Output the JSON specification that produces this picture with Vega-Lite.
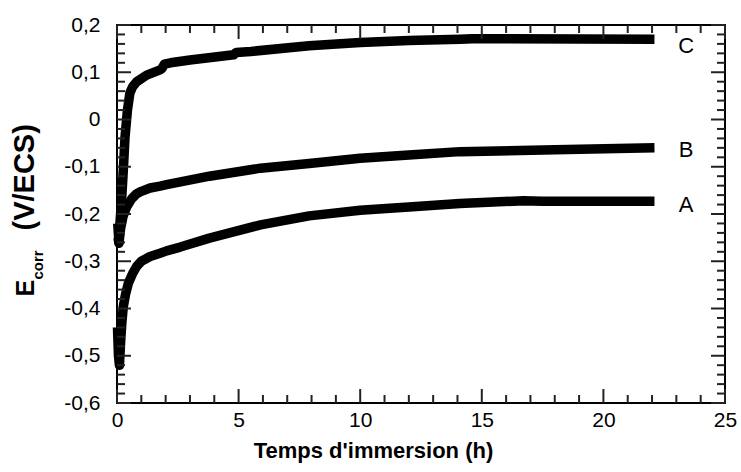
{
  "$schema": "https://vega.github.io/schema/vega-lite/v6.json",
  "width": 608,
  "height": 378,
  "autosize": {"type": "none"},
  "padding": {"left": 117, "top": 25, "right": 16, "bottom": 69},
  "background": "white",
  "config": {
    "view": {"stroke": "#000", "strokeWidth": 2},
    "font": "Liberation Sans",
    "axis": {"grid": false, "domain": false, "labelColor": "#000", "titleColor": "#000", "labelFont": "Liberation Sans", "titleFont": "Liberation Sans"}
  },
  "datasets": {
    "xmajor": [{"t":0},{"t":5},{"t":10},{"t":15},{"t":20},{"t":25}],
    "xminor": [{"t":1},{"t":2},{"t":3},{"t":4},{"t":6},{"t":7},{"t":8},{"t":9},{"t":11},{"t":12},{"t":13},{"t":14},{"t":16},{"t":17},{"t":18},{"t":19},{"t":21},{"t":22},{"t":23},{"t":24}],
    "ymajor": [{"v":-0.6},{"v":-0.5},{"v":-0.4},{"v":-0.3},{"v":-0.2},{"v":-0.1},{"v":0},{"v":0.1},{"v":0.2}],
    "yminor": [{"v":-0.58},{"v":-0.56},{"v":-0.54},{"v":-0.52},{"v":-0.48},{"v":-0.46},{"v":-0.44},{"v":-0.42},{"v":-0.38},{"v":-0.36},{"v":-0.34},{"v":-0.32},{"v":-0.28},{"v":-0.26},{"v":-0.24},{"v":-0.22},{"v":-0.18},{"v":-0.16},{"v":-0.14},{"v":-0.12},{"v":-0.08},{"v":-0.06},{"v":-0.04},{"v":-0.02},{"v":0.02},{"v":0.04},{"v":0.06},{"v":0.08},{"v":0.12},{"v":0.14},{"v":0.16},{"v":0.18}]
  },
  "resolve": {"axis": {"x": "independent", "y": "independent"}},
  "layer": [
    {
      "data": {"values": [
        {"s":"A","t":0.02,"v":-0.44},{"s":"A","t":0.06,"v":-0.50},{"s":"A","t":0.1,"v":-0.52},{"s":"A","t":0.15,"v":-0.47},{"s":"A","t":0.2,"v":-0.43},{"s":"A","t":0.26,"v":-0.396},{"s":"A","t":0.35,"v":-0.37},{"s":"A","t":0.47,"v":-0.346},{"s":"A","t":0.65,"v":-0.325},{"s":"A","t":0.81,"v":-0.311},{"s":"A","t":1.0,"v":-0.30},{"s":"A","t":1.36,"v":-0.29},{"s":"A","t":1.77,"v":-0.283},{"s":"A","t":2.04,"v":-0.278},{"s":"A","t":2.6,"v":-0.27},{"s":"A","t":3.8,"v":-0.251},{"s":"A","t":5.9,"v":-0.223},{"s":"A","t":7.9,"v":-0.204},{"s":"A","t":10,"v":-0.192},{"s":"A","t":12,"v":-0.185},{"s":"A","t":14.1,"v":-0.178},{"s":"A","t":16.7,"v":-0.172},{"s":"A","t":17.5,"v":-0.173},{"s":"A","t":22.1,"v":-0.173},
        {"s":"B","t":0.04,"v":-0.25},{"s":"B","t":0.08,"v":-0.262},{"s":"B","t":0.15,"v":-0.23},{"s":"B","t":0.25,"v":-0.205},{"s":"B","t":0.4,"v":-0.185},{"s":"B","t":0.6,"v":-0.168},{"s":"B","t":0.81,"v":-0.157},{"s":"B","t":1.0,"v":-0.152},{"s":"B","t":1.36,"v":-0.145},{"s":"B","t":1.77,"v":-0.141},{"s":"B","t":2.04,"v":-0.138},{"s":"B","t":3.8,"v":-0.12},{"s":"B","t":5.9,"v":-0.103},{"s":"B","t":7.9,"v":-0.093},{"s":"B","t":10,"v":-0.082},{"s":"B","t":12,"v":-0.075},{"s":"B","t":14.1,"v":-0.068},{"s":"B","t":18,"v":-0.064},{"s":"B","t":22.1,"v":-0.06},
        {"s":"C","t":0.03,"v":-0.22},{"s":"C","t":0.08,"v":-0.26},{"s":"C","t":0.12,"v":-0.22},{"s":"C","t":0.19,"v":-0.17},{"s":"C","t":0.26,"v":-0.107},{"s":"C","t":0.33,"v":-0.037},{"s":"C","t":0.43,"v":0.02},{"s":"C","t":0.53,"v":0.056},{"s":"C","t":0.65,"v":0.07},{"s":"C","t":0.81,"v":0.08},{"s":"C","t":1.22,"v":0.094},{"s":"C","t":1.77,"v":0.105},{"s":"C","t":1.85,"v":0.108},{"s":"C","t":1.95,"v":0.117},{"s":"C","t":2.2,"v":0.12},{"s":"C","t":3,"v":0.126},{"s":"C","t":4.8,"v":0.137},{"s":"C","t":4.9,"v":0.142},{"s":"C","t":5.5,"v":0.144},{"s":"C","t":7.9,"v":0.156},{"s":"C","t":10,"v":0.163},{"s":"C","t":12,"v":0.167},{"s":"C","t":14.1,"v":0.17},{"s":"C","t":14.6,"v":0.171},{"s":"C","t":22.1,"v":0.17}
      ]},
      "mark": {"type": "line", "color": "#000", "strokeWidth": 9.5, "strokeCap": "butt", "strokeJoin": "round"},
      "encoding": {
        "detail": {"field": "s"},
        "x": {"field": "t", "type": "quantitative", "scale": {"domain": [0, 25], "nice": false},
          "axis": {"orient": "bottom", "values": [0,5,10,15,20,25], "ticks": false, "labelPadding": 6, "labelFontSize": 21, "labelFlush": false, "labelOverlap": false,
            "title": "Temps d'immersion (h)", "titleFontSize": 22, "titleFontWeight": "bold", "titleX": 256, "titleY": 54, "titleAlign": "center", "titleBaseline": "alphabetic"}},
        "y": {"field": "v", "type": "quantitative", "scale": {"domain": [-0.6, 0.2], "nice": false, "zero": false},
          "axis": {"orient": "left", "values": [-0.6,-0.5,-0.4,-0.3,-0.2,-0.1,0,0.1,0.2], "ticks": false, "labelPadding": 17, "labelFontSize": 21, "labelFlush": false, "labelOverlap": false,
            "labelExpr": "datum.value == 0 ? '0' : replace(replace(format(datum.value, '.1f'), '.', ','), '\u2212', '-')",
            "title": "E", "titleFontSize": 25, "titleFontWeight": "bold", "titleAngle": 270, "titleX": -84, "titleY": 271, "titleAlign": "left", "titleBaseline": "alphabetic"}}
      }
    },
    {
      "data": {"values": [{"lab":"C","t":23.4,"v":0.155},{"lab":"B","t":23.4,"v":-0.065},{"lab":"A","t":23.4,"v":-0.181}]},
      "mark": {"type": "text", "font": "Liberation Sans", "fontSize": 22, "color": "#000", "align": "center", "baseline": "middle"},
      "encoding": {
        "text": {"field": "lab"},
        "x": {"field": "t", "type": "quantitative", "axis": null},
        "y": {"field": "v", "type": "quantitative",
          "axis": {"orient": "left", "ticks": false, "labels": false,
            "title": "corr", "titleFontSize": 15, "titleFontWeight": "bold", "titleAngle": 270, "titleX": -75, "titleY": 254, "titleAlign": "left", "titleBaseline": "alphabetic"}}
      }
    },
    {
      "data": {"name": "ymajor"},
      "mark": {"type": "rule", "color": "#222", "strokeWidth": 2},
      "encoding": {
        "y": {"field": "v", "type": "quantitative",
          "axis": {"orient": "left", "ticks": false, "labels": false,
            "title": "(V/ECS)", "titleFontSize": 29, "titleFontWeight": "bold", "titleAngle": 270, "titleX": -84, "titleY": 205, "titleAlign": "left", "titleBaseline": "alphabetic"}},
        "x": {"datum": 0, "type": "quantitative", "axis": null},
        "x2": {"datum": 0.576}
      }
    },
    {
      "data": {"name": "ymajor"},
      "mark": {"type": "rule", "color": "#222", "strokeWidth": 2},
      "encoding": {
        "y": {"field": "v", "type": "quantitative", "axis": null},
        "x": {"datum": 25, "type": "quantitative", "axis": null},
        "x2": {"datum": 24.424}
      }
    },
    {
      "data": {"name": "yminor"},
      "mark": {"type": "rule", "color": "#222", "strokeWidth": 2},
      "encoding": {
        "y": {"field": "v", "type": "quantitative", "axis": null},
        "x": {"datum": 0, "type": "quantitative", "axis": null},
        "x2": {"datum": 0.329}
      }
    },
    {
      "data": {"name": "yminor"},
      "mark": {"type": "rule", "color": "#222", "strokeWidth": 2},
      "encoding": {
        "y": {"field": "v", "type": "quantitative", "axis": null},
        "x": {"datum": 25, "type": "quantitative", "axis": null},
        "x2": {"datum": 24.671}
      }
    },
    {
      "data": {"name": "xmajor"},
      "mark": {"type": "rule", "color": "#222", "strokeWidth": 2},
      "encoding": {
        "x": {"field": "t", "type": "quantitative", "axis": null},
        "y": {"datum": -0.6, "type": "quantitative", "axis": null},
        "y2": {"datum": -0.5704}
      }
    },
    {
      "data": {"name": "xmajor"},
      "mark": {"type": "rule", "color": "#222", "strokeWidth": 2},
      "encoding": {
        "x": {"field": "t", "type": "quantitative", "axis": null},
        "y": {"datum": 0.2, "type": "quantitative", "axis": null},
        "y2": {"datum": 0.1704}
      }
    },
    {
      "data": {"name": "xminor"},
      "mark": {"type": "rule", "color": "#222", "strokeWidth": 2},
      "encoding": {
        "x": {"field": "t", "type": "quantitative", "axis": null},
        "y": {"datum": -0.6, "type": "quantitative", "axis": null},
        "y2": {"datum": -0.5831}
      }
    },
    {
      "data": {"name": "xminor"},
      "mark": {"type": "rule", "color": "#222", "strokeWidth": 2},
      "encoding": {
        "x": {"field": "t", "type": "quantitative", "axis": null},
        "y": {"datum": 0.2, "type": "quantitative", "axis": null},
        "y2": {"datum": 0.1831}
      }
    }
  ]
}
